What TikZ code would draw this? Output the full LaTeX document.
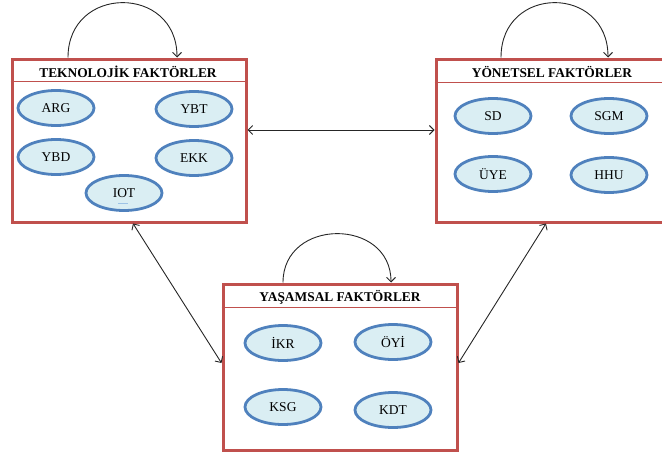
\documentclass[tikz,border=0pt]{standalone}
\usepackage{fontspec}
\setmainfont{Liberation Serif}
\usetikzlibrary{shapes.geometric,arrows.meta,calc}
\definecolor{boxred}{HTML}{C0504D}
\definecolor{ellblue}{HTML}{4F81BD}
\definecolor{ellfill}{HTML}{DAEEF3}
\definecolor{marklight}{HTML}{9DC3E6}
\begin{document}
\begin{tikzpicture}[x=1pt,y=-1pt,
  factorbox/.style={draw=boxred,line width=3pt,rectangle,minimum width=234pt,inner sep=0pt},
  hdrline/.style={draw=boxred,line width=0.9pt},
  boxtitle/.style={font=\rmfamily\fontsize{13.4}{15}\selectfont\bfseries,inner sep=0pt,anchor=center},
  factor/.style={ellipse,draw=ellblue,fill=ellfill,line width=2.8pt,minimum width=76pt,minimum height=35pt,inner sep=0pt,font=\rmfamily\fontsize{13.5}{15}\selectfont},
  link/.style={draw=black!85,line width=0.9pt,{Straight Barb[length=4.5pt,width=9pt]}-{Straight Barb[length=4.5pt,width=9pt]}},
  selfloop/.style={draw=black!85,line width=0.9pt,-{Straight Barb[length=4.5pt,width=9pt]}}
]
\useasboundingbox (0,0) rectangle (662,455);
% boxes
\node[factorbox,minimum height=163pt] (tek) at (129,140.5) {};
\node[factorbox,minimum height=163pt] (yon) at (553,140.5) {};
\node[factorbox,minimum height=166pt] (yas) at (340,367) {};
% header lines
\draw[hdrline] (tek.west |- 0,81) -- (tek.east |- 0,81);
\draw[hdrline] (yon.west |- 0,82) -- (yon.east |- 0,82);
\draw[hdrline] (yas.west |- 0,307) -- (yas.east |- 0,307);
% titles
\node[boxtitle] (tekT) at (128,72) {TEKNOLOJİK FAKTÖRLER};
\node[boxtitle] (yonT) at (552,72) {YÖNETSEL FAKTÖRLER};
\node[boxtitle] (yasT) at (340,297.5) {YAŞAMSAL FAKTÖRLER};
% factors
\node[factor] (arg) at (56,108) {ARG};
\node[factor] (ybt) at (194,109) {YBT};
\node[factor] (ybd) at (56,157) {YBD};
\node[factor] (ekk) at (194,158) {EKK};
\node[factor] (iot) at (124,193) {IOT};
\draw[marklight,line width=1pt] (118,203) -- (128,203);
\node[factor] (sd) at (493,116) {SD};
\node[factor] (sgm) at (609,116) {SGM};
\node[factor] (uye) at (493,174) {ÜYE};
\node[factor] (hhu) at (609,175) {HHU};
\node[factor] (ikr) at (283,343) {İKR};
\node[factor] (oyi) at (393,342) {ÖYİ};
\node[factor] (ksg) at (283,407) {KSG};
\node[factor] (kdt) at (393,410) {KDT};
% connectors
\coordinate (tekR) at (tek.east |- 0,130);
\coordinate (yonL) at (yon.west |- 0,130);
\coordinate (tekB) at (tek.south -| 133,0);
\coordinate (yonB) at (yon.south -| 546,0);
\coordinate (yasL) at (yas.west |- 0,363);
\coordinate (yasR) at (yas.east |- 0,363);
\draw[link] (tekR) -- (yonL);
\draw[link] (tekB) -- (yasL);
\draw[link] (yonB) -- (yasR);
% self loops
\draw[selfloop] ([xshift=-61pt]tek.north) .. controls +(0,-73) and +(0,-73) .. ([xshift=48pt]tek.north);
\draw[selfloop] ([xshift=-52pt]yon.north) .. controls +(0,-73) and +(0,-73) .. ([xshift=55pt]yon.north);
\draw[selfloop] ([xshift=-57pt]yas.north) .. controls +(0,-65) and +(0,-65) .. ([xshift=51pt]yas.north);
\end{tikzpicture}
\end{document}
